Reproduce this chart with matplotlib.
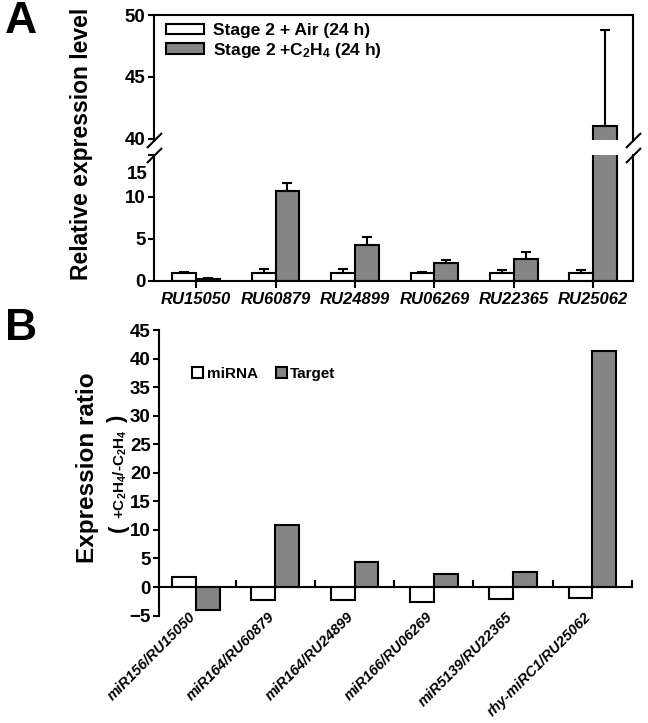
import matplotlib
matplotlib.use('Agg')
import matplotlib.pyplot as plt
import matplotlib.transforms as mtransforms
from matplotlib.patches import Patch
import numpy as np

plt.rcParams['font.family'] = ['Liberation Sans', 'DejaVu Sans']
plt.rcParams['font.weight'] = 'bold'
plt.rcParams['mathtext.fontset'] = 'custom'
plt.rcParams['mathtext.rm'] = 'Liberation Sans:bold'
plt.rcParams['mathtext.it'] = 'Liberation Sans:italic:bold'
plt.rcParams['mathtext.bf'] = 'Liberation Sans:bold'
plt.rcParams['mathtext.default'] = 'regular'

# panel A: relative expression (mean, upper error)
genes = ['RU15050', 'RU60879', 'RU24899', 'RU06269', 'RU22365', 'RU25062']
air_mean = [1.0, 1.0, 1.0, 1.0, 1.0, 1.0]
air_err = [0.1, 0.4, 0.4, 0.1, 0.35, 0.3]
eth_mean = [0.25, 10.7, 4.3, 2.1, 2.6, 41.0]
eth_err = [0.05, 1.0, 0.9, 0.35, 0.85, 7.8]
legend_a = ['Stage 2 + Air (24 h)', 'Stage 2 +C$_2$H$_4$ (24 h)']

# panel B: expression ratio (+C2H4 / -C2H4)
pairs = ['miR156/RU15050', 'miR164/RU60879', 'miR164/RU24899',
         'miR166/RU06269', 'miR5139/RU22365', 'rhy-miRC1/RU25062']
mirna_ratio = [1.8, -2.3, -2.3, -2.7, -2.15, -2.0]
target_ratio = [-4.0, 10.9, 4.4, 2.2, 2.7, 41.3]
legend_b = ['miRNA', 'Target']

W, H = 648, 723
gray = '#858585'
bw = 0.3
lw = 1.5
tick_fs = 13.5

fig = plt.figure(figsize=(W / 100, H / 100), dpi=100)

# ---------------- panel A (broken y axis) ----------------
ax_hi = fig.add_axes([154 / W, 1 - 140 / H, 479 / W, 125 / H])
ax_lo = fig.add_axes([154 / W, 1 - 281 / H, 479 / W, 126 / H])
x = np.arange(len(genes))
n = len(genes)

for ax in (ax_hi, ax_lo):
    ax.bar(x - bw / 2, air_mean, bw, color='white', edgecolor='black', linewidth=lw, zorder=2)
    ax.bar(x + bw / 2, eth_mean, bw, color=gray, edgecolor='black', linewidth=lw, zorder=2)
    ax.errorbar(x - bw / 2, air_mean, yerr=[np.zeros(n), air_err], fmt='none', ecolor='black',
                elinewidth=lw, capsize=3.6, capthick=lw, zorder=3)
    ax.errorbar(x + bw / 2, eth_mean, yerr=[np.zeros(n), eth_err], fmt='none', ecolor='black',
                elinewidth=lw, capsize=3.6, capthick=lw, zorder=3)
    ax.set_xlim(-0.53, 5.5)
    for s in ax.spines.values():
        s.set_linewidth(lw)
    ax.tick_params(axis='y', labelsize=tick_fs, width=lw, length=4, pad=2)

ax_hi.set_ylim(39.9, 50)
ax_hi.set_yticks([40, 45, 50])
ax_hi.spines['bottom'].set_visible(False)
ax_hi.tick_params(axis='x', bottom=False, labelbottom=False)

ax_lo.set_ylim(0, 15)
ax_lo.set_yticks([0, 5, 10, 15], ['0', '5', '10', ''])
ax_lo.spines['top'].set_visible(False)
ax_lo.set_xticks(x, genes, fontsize=12, fontstyle='italic')
ax_lo.tick_params(axis='x', width=lw, length=5, pad=3)
# the "15" label sits a little below its tick in the original figure
lab_tr = mtransforms.offset_copy(ax_lo.get_yaxis_transform(), fig=fig, x=-6, y=-20, units='dots')
ax_lo.text(0, 15, '15', transform=lab_tr, ha='right', va='center', fontsize=tick_fs)

# break marks
kw = dict(marker=[(-1, -1), (1, 1)], markersize=10.8, linestyle='none', color='black',
          mec='black', mew=lw, clip_on=False)
ax_hi.plot([0, 1], [0, 0], transform=ax_hi.transAxes, **kw)
ax_lo.plot([0, 1], [1, 1], transform=ax_lo.transAxes, **kw)

handles_a = [Patch(facecolor='white', edgecolor='black', linewidth=lw),
             Patch(facecolor=gray, edgecolor='black', linewidth=lw)]
ax_hi.legend(handles_a, legend_a, loc='upper left', bbox_to_anchor=(166 / W, 1 - 23 / H),
             bbox_transform=fig.transFigure, frameon=False, borderpad=0, borderaxespad=0,
             handlelength=2.2, handleheight=0.55, handletextpad=0.5, labelspacing=0.15,
             prop=dict(size=12.5, weight='bold'))

fig.text(82 / W, 1 - 143.5 / H, 'Relative expression level', rotation=90, fontsize=16.5,
         ha='center', va='center')
fig.text(5 / W, 1 - 1 / H, 'A', fontsize=32, ha='left', va='top')

# ---------------- panel B ----------------
ax_b = fig.add_axes([159 / W, 1 - 615.6 / H, 473 / W, 285.6 / H])
xb = np.arange(len(pairs))
ax_b.bar(xb - bw / 2, mirna_ratio, bw, color='white', edgecolor='black', linewidth=lw, zorder=2)
ax_b.bar(xb + bw / 2, target_ratio, bw, color=gray, edgecolor='black', linewidth=lw, zorder=2)
ax_b.set_xlim(-0.466, 5.49)
ax_b.set_ylim(-5, 45)
ax_b.set_yticks(np.arange(-5, 46, 5))
ax_b.spines['top'].set_visible(False)
ax_b.spines['right'].set_visible(False)
ax_b.spines['bottom'].set_position(('data', 0))
for s in ax_b.spines.values():
    s.set_linewidth(lw)
ax_b.set_xticks(xb + 0.5)
ax_b.tick_params(axis='x', direction='in', length=5, width=lw, labelbottom=False)
ax_b.tick_params(axis='y', labelsize=tick_fs, width=lw, length=4, pad=2)

lab_b = mtransforms.blended_transform_factory(ax_b.transData, ax_b.transAxes)
for xi, name in zip(xb, pairs):
    ax_b.text(xi - 0.1, 0.02, name, transform=lab_b, rotation=45, rotation_mode='anchor',
              ha='right', va='top', fontsize=10.5, fontstyle='italic')

handles_b = [Patch(facecolor='white', edgecolor='black', linewidth=lw),
             Patch(facecolor=gray, edgecolor='black', linewidth=lw)]
ax_b.legend(handles_b, legend_b, loc='upper left', bbox_to_anchor=(192 / W, 1 - 367 / H),
            bbox_transform=fig.transFigure, ncol=2, frameon=False, borderpad=0, borderaxespad=0,
            handlelength=0.75, handleheight=0.75, handletextpad=0.2, columnspacing=1.2,
            prop=dict(size=11, weight='bold'))

fig.text(87 / W, 1 - 468 / H, 'Expression ratio', rotation=90, fontsize=17.5,
         ha='center', va='center')
fig.text(120 / W, 1 - 474 / H, '+C$_2$H$_4$/-C$_2$H$_4$', rotation=90, fontsize=11,
         ha='center', va='center')
fig.text(118 / W, 1 - 528 / H, '(', rotation=90, fontsize=16, ha='center', va='center')
fig.text(118 / W, 1 - 419 / H, ')', rotation=90, fontsize=16, ha='center', va='center')
fig.text(5 / W, 1 - 308 / H, 'B', fontsize=32, ha='left', va='top')

fig.savefig('out.png', dpi=100)
